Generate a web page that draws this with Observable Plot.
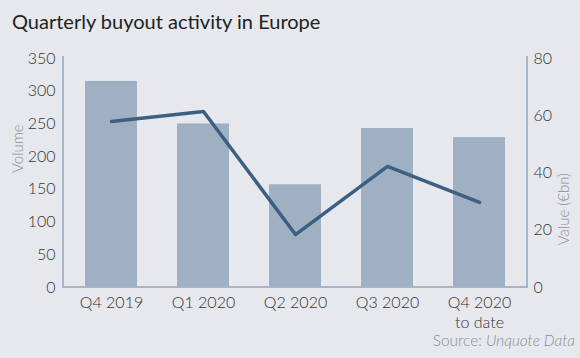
<!DOCTYPE html>
<html>
<head>
<meta charset="utf-8">
<script src="https://cdn.jsdelivr.net/npm/d3@7"></script>
<script src="https://cdn.jsdelivr.net/npm/@observablehq/plot@0.6"></script>
<style>
  html, body { margin: 0; padding: 0; background: #e6e8ed; }
  body { width: 580px; height: 358px; position: relative; overflow: hidden; font-family: Lato, "Open Sans", sans-serif; }
  #title { position: absolute; left: 12px; top: 9px; font-size: 20px; color: #222; font-weight: 400; white-space: nowrap; }
  #chart { position: absolute; left: 0; top: 40px; }
  #source { position: absolute; right: 5px; top: 331px; font-size: 15.4px; color: #8a8d93; font-weight: 300; }
  #source i { font-style: italic; }
</style>
</head>
<body>
<div id="title">Quarterly buyout activity in Europe</div>
<div id="chart"></div>
<div id="source">Source: <i>Unquote Data</i></div>
<script>
const quarters = ["Q4 2019", "Q1 2020", "Q2 2020", "Q3 2020", "Q4 2020\nto date"];
const volume = [315, 250, 157, 243, 229];
const valueBn = [58, 61.5, 18.5, 42.3, 29.7];
const volumeTicks = [0, 50, 100, 150, 200, 250, 300, 350];
const valueTicks = [0, 20, 40, 60, 80];

const volMax = 350, valMax = 80;
const k = volMax / valMax;
const rows = quarters.map((q, i) => ({q, volume: volume[i], value: valueBn[i]}));

const axisColor = "#a6b6c8";
const frameMark = (index, scales, values, dims) => {
  const x0 = dims.marginLeft, x1 = dims.width - dims.marginRight;
  const y0 = dims.marginTop, y1 = dims.height - dims.marginBottom;
  const p = d3.create("svg:path")
    .attr("d", `M${x0},${y0 - 2}V${y1}H${x1}V${y0 - 2}`)
    .attr("fill", "none").attr("stroke", axisColor).attr("stroke-width", 2);
  return p.node();
};

const chart = Plot.plot({
  width: 580,
  height: 290,
  marginTop: 18,
  marginBottom: 43,
  marginLeft: 63,
  marginRight: 53,
  style: {background: "transparent", fontFamily: "Lato, 'Open Sans', sans-serif", color: "#333"},
  x: {domain: quarters, paddingInner: 0.438, paddingOuter: 0.227},
  y: {domain: [0, volMax]},
  marks: [
    Plot.barY(rows, {x: "q", y: "volume", fill: "#9fb0c2"}),
    Plot.lineY(rows, {x: "q", y: d => d.value * k, stroke: "#3d5f82", strokeWidth: 3.5}),
    frameMark,
    Plot.axisX({tickSize: 0, tickPadding: 6, fontSize: 16, fontWeight: 300, fill: "#333", label: null, lineHeight: 1.25}),
    Plot.axisY({anchor: "left", ticks: volumeTicks, tickSize: 0, tickPadding: 8, fontSize: 16, fontWeight: 300, fill: "#333", label: null}),
    Plot.axisY({anchor: "right", ticks: valueTicks.map(v => v * k), tickFormat: d => Math.round(d / k), tickSize: 0, tickPadding: 6, fontSize: 16, fontWeight: 300, fill: "#333", label: null}),
    Plot.text(["Volume"], {frameAnchor: "left", dx: -45, rotate: -90, fontSize: 15, fontWeight: 300, fill: "#8a8d93"}),
    Plot.text(["Value (€bn)"], {frameAnchor: "right", dx: 37, rotate: -90, fontSize: 15, fontWeight: 300, fill: "#8a8d93"})
  ]
});
document.getElementById("chart").appendChild(chart);
</script>
</body>
</html>
